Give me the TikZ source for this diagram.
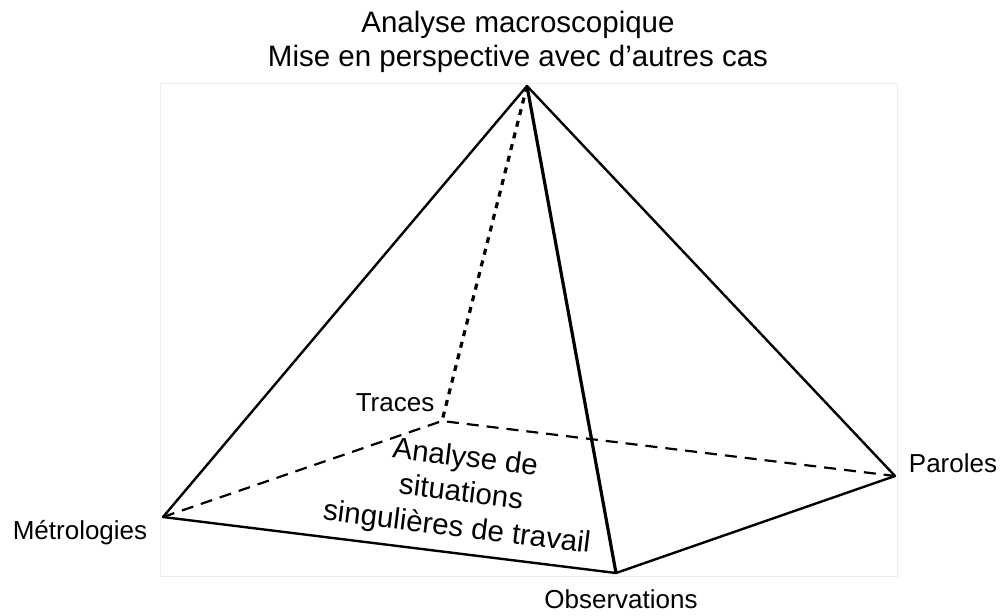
\documentclass[tikz,border=0pt]{standalone}
\usepackage{fontspec}
\setmainfont{Liberation Sans}
\begin{document}
\begin{tikzpicture}[x=1pt,y=-1pt,
  edge/.style={line width=2.4pt, line join=round},
  frontedge/.style={line width=3.2pt, line join=round},
  hidden/.style={line width=2.2pt, dash pattern=on 12pt off 8pt},
  dotedge/.style={line width=3.2pt, dash pattern=on 6pt off 6pt},
  lbl/.style={font=\fontsize{26}{30}\selectfont, inner sep=0pt, anchor=base},
  frame/.style={draw=black!7, line width=0.8pt}]
\useasboundingbox (0,0) rectangle (1000,615);
\fill[white] (0,0) rectangle (1000,615);
\draw[frame] (160,83) rectangle (897,576);
\coordinate (A) at (527,86);
\coordinate (M) at (163,517);
\coordinate (O) at (616,573);
\coordinate (P) at (895,476);
\coordinate (T) at (442,421);
\draw[hidden] (M) -- (T) -- (P);
\draw[dotedge] (A) -- (T);
\draw[edge] (M) -- (A) -- (P) -- (O) -- cycle;
\draw[frontedge] (A) -- (O);
\node[lbl, align=center, font=\fontsize{29.5}{34}\selectfont] (title) at (518,67) {Analyse macroscopique\\Mise en perspective avec d’autres cas};
\node[lbl] (met) at (80,539) {Métrologies};
\node[lbl] (tra) at (395,411) {Traces};
\node[lbl] (par) at (953,472) {Paroles};
\node[lbl] (obs) at (621,608) {Observations};
\node[align=center, rotate=-7, font=\fontsize{29.5}{35}\selectfont, inner sep=0pt] (center) at (461,494) {Analyse de\\situations\\singulières de travail};
\end{tikzpicture}
\end{document}
